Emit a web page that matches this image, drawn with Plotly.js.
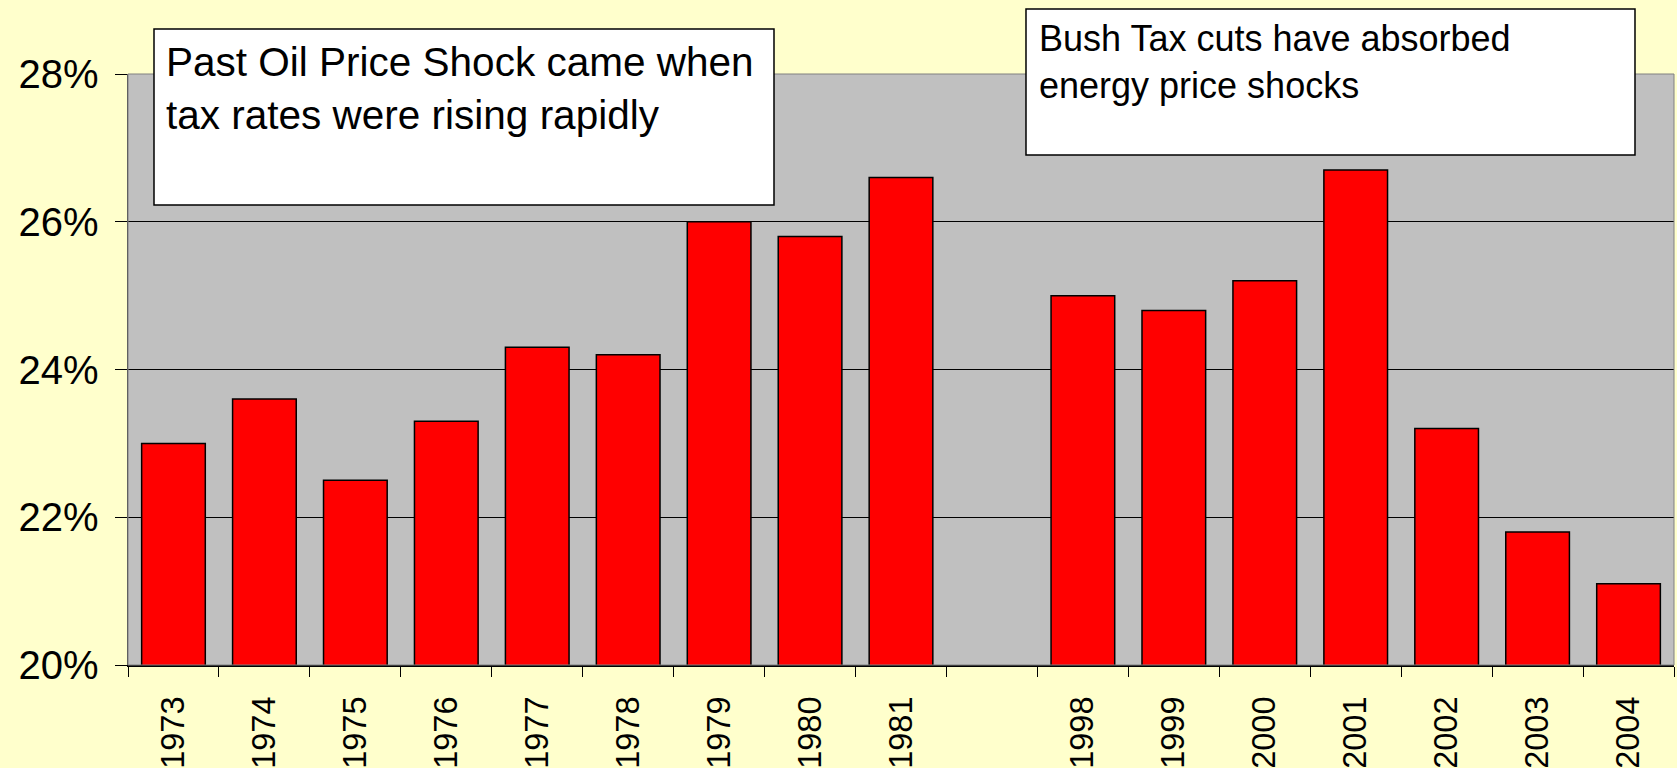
<!DOCTYPE html>
<html>
<head>
<meta charset="utf-8">
<script src="https://cdn.plot.ly/plotly-3.0.1.min.js"></script>
<style>
  html, body { margin: 0; padding: 0; background: #FFFFCC; }
  #chart { width: 1677px; height: 768px; }
</style>
</head>
<body>
<div id="chart"></div>
<script>
// Data (tax rate share, %), with an empty category as a visual gap
const years = ["1973", "1974", "1975", "1976", "1977", "1978", "1979", "1980", "1981", " ",
               "1998", "1999", "2000", "2001", "2002", "2003", "2004"];
const rates = [23.0, 23.6, 22.5, 23.3, 24.3, 24.2, 26.0, 25.8, 26.6, null,
               25.0, 24.8, 25.2, 26.7, 23.2, 21.8, 21.1];
const yTicks = [20, 22, 24, 26, 28];
const yTickLabels = ["20%", "22%", "24%", "26%", "28%"];
const noteLeft = "Past Oil Price Shock came when<br>tax rates were rising rapidly";
const noteRight = "Bush Tax cuts have absorbed<br>energy price shocks";

const FONT = "Liberation Sans, Arial, sans-serif";

const trace = {
  type: "bar",
  x: years,
  y: rates,
  marker: { color: "#FF0000", line: { color: "#000000", width: 1.5 } },
  hoverinfo: "x+y"
};

const layout = {
  width: 1677,
  height: 768,
  paper_bgcolor: "#FFFFCC",
  plot_bgcolor: "#C0C0C0",
  margin: { l: 128, r: 3, t: 74, b: 103, pad: 0 },
  showlegend: false,
  bargap: 0.3,
  font: { family: FONT, color: "#000000" },
  xaxis: {
    type: "category",
    range: [-0.5, years.length - 0.5],
    tickson: "boundaries",
    ticks: "outside",
    ticklen: 10,
    tickcolor: "#000000",
    tickwidth: 1,
    tickangle: -90,
    tickfont: { family: FONT, size: 32.5, color: "#000000" },
    ticklabelstandoff: 17,
    showgrid: false,
    showline: true,
    linecolor: "#000000",
    linewidth: 1.5,
    zeroline: false,
    fixedrange: true
  },
  yaxis: {
    range: [20, 28],
    tickmode: "array",
    tickvals: yTicks,
    ticktext: yTickLabels,
    ticks: "outside",
    ticklen: 12,
    tickcolor: "#000000",
    tickwidth: 1,
    tickfont: { family: FONT, size: 40, color: "#000000" },
    ticklabelstandoff: 8,
    showgrid: true,
    gridcolor: "#000000",
    gridwidth: 1,
    showline: true,
    linecolor: "#404040",
    linewidth: 1.5,
    zeroline: false,
    fixedrange: true
  },
  shapes: [
    { type: "rect", xref: "paper", yref: "paper", x0: 0, x1: 1, y0: 0, y1: 1,
      line: { color: "#808080", width: 1 }, fillcolor: "rgba(0,0,0,0)", layer: "above" },
    { type: "rect", xref: "paper", yref: "paper", x0: 0.01682, x1: 0.41785, y0: 0.77834, y1: 1.07614,
      line: { color: "#000000", width: 1.5 }, fillcolor: "#FFFFFF", layer: "above" },
    { type: "rect", xref: "paper", yref: "paper", x0: 0.58085, x1: 0.97477, y0: 0.86294, y1: 1.10998,
      line: { color: "#000000", width: 1.5 }, fillcolor: "#FFFFFF", layer: "above" }
  ],
  annotations: [
    { xref: "paper", yref: "paper", x: 0.0233, y: 1.062, xanchor: "left", yanchor: "top",
      text: noteLeft, showarrow: false, align: "left",
      font: { family: FONT, size: 40.5, color: "#000000" } },
    { xref: "paper", yref: "paper", x: 0.5879, y: 1.098, xanchor: "left", yanchor: "top",
      text: noteRight, showarrow: false, align: "left",
      font: { family: FONT, size: 36, color: "#000000" } }
  ]
};

Plotly.newPlot("chart", [trace], layout, { displayModeBar: false, staticPlot: true });
</script>
</body>
</html>
